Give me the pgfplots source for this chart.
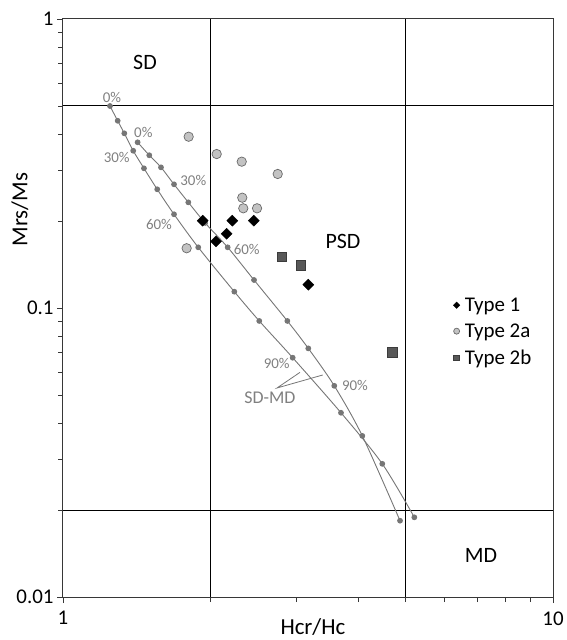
\documentclass[border=0pt]{standalone}
\usepackage{fontspec}
\setmainfont{Carlito}
\usepackage{pgfplots}
\pgfplotsset{compat=1.18}
\definecolor{curvegray}{RGB}{118,118,118}
\definecolor{labelgray}{RGB}{128,128,128}
\definecolor{circfill}{RGB}{195,195,195}
\definecolor{circdraw}{RGB}{105,105,105}
\definecolor{sqfill}{RGB}{88,88,88}
\definecolor{sqdraw}{RGB}{60,60,60}
\definecolor{framegray}{RGB}{55,55,55}
\pgfplotsset{smallleg/.style={legend image code/.code={\draw[##1, mark size=#1] plot coordinates {(0.2cm,0cm)};}}}
\begin{document}
\begin{tikzpicture}
\begin{axis}[name=ax, scale only axis, width=490bp, height=578bp,
  xmode=log, ymode=log, xmin=1, xmax=10, ymin=0.01, ymax=1,
  axis line style={framegray, line width=1bp},
  xtick={1,10}, xticklabels={1,10},
  ytick={0.01,0.1,1}, yticklabels={0.01,0.1,1},
  minor xtick={2,3,4,5,6,7,8,9},
  minor ytick={0.02,0.03,0.04,0.05,0.06,0.07,0.08,0.09,0.2,0.3,0.4,0.5,0.6,0.7,0.8,0.9},
  tick pos=left, tick align=outside,
  major tick length=6bp, minor tick length=5bp,
  every tick/.style={framegray, line width=0.8bp},
  tick label style={font=\fontsize{21}{25}\selectfont},
  xticklabel style={yshift=-5bp},
  /pgf/number format/assume math mode=true,
  extra x ticks={2,5}, extra y ticks={0.02,0.5},
  extra x tick labels={}, extra y tick labels={},
  extra tick style={grid=major, major grid style={black, line width=1bp}, major tick length=0pt},
  xlabel={Hcr/Hc}, ylabel={Mrs/Ms},
  xlabel style={at={(rel axis cs:0.51,0)}, anchor=center, yshift=-30bp, font=\fontsize{23}{27}\selectfont},
  ylabel style={at={(rel axis cs:0,0.67)}, anchor=center, yshift=43bp, font=\fontsize{23}{27}\selectfont},
  legend style={draw=none, fill=none, at={(rel axis cs:0.7963,0.5216)}, anchor=north west,
    font=\fontsize{21}{25}\selectfont, row sep=7bp, column sep=3bp, inner sep=0pt},
  legend cell align=left,
]
% SD-MD mixing curves
\addplot[curvegray, line width=0.9bp, smooth, mark=*, mark size=2.4bp,
  mark options={fill=curvegray, draw=curvegray}, forget plot] coordinates {
  (1.247,0.5) (1.293,0.4445) (1.334,0.4021) (1.391,0.3501) (1.463,0.3043)
  (1.557,0.2575) (1.685,0.2110) (1.888,0.1622) (2.237,0.1139) (2.515,0.0902)
  (2.943,0.0673) (3.693,0.0434) (4.483,0.0289) (5.212,0.01887)};
\addplot[curvegray, line width=0.9bp, smooth, mark=*, mark size=2.4bp,
  mark options={fill=curvegray, draw=curvegray}, forget plot] coordinates {
  (1.420,0.3745) (1.500,0.3377) (1.585,0.3067) (1.685,0.2679) (1.802,0.2321)
  (1.95,0.197) (2.168,0.1622) (2.454,0.125) (2.870,0.0902) (3.167,0.0725)
  (3.578,0.0538) (4.082,0.0361) (4.873,0.01837)};
% Data
\addplot[only marks, mark=square*, mark size=3.9bp, mark options={rotate=45, fill=black, draw=black},
  smallleg=2.3bp]
  coordinates {(1.928,0.2005) (2.216,0.2005) (2.451,0.2005) (2.158,0.1807) (2.052,0.170) (3.167,0.1204)};
\addlegendentry{Type 1}
\addplot[only marks, mark=*, mark size=4.7bp, mark options={fill=circfill, draw=circdraw, line width=0.7bp},
  smallleg=3.0bp]
  coordinates {(1.805,0.3915) (2.059,0.341) (2.316,0.3209) (2.743,0.2909) (2.322,0.2408)
  (2.333,0.2213) (2.489,0.2213) (1.788,0.161)};
\addlegendentry{Type 2a}
\addplot[only marks, mark=square*, mark size=4.7bp, mark options={fill=sqfill, draw=sqdraw, line width=0.6bp},
  smallleg=2.9bp]
  coordinates {(2.798,0.1505) (3.06,0.1405) (4.70,0.0703)};
\addlegendentry{Type 2b}
% Region labels
\node[font=\fontsize{22}{26}\selectfont] at (rel axis cs:0.1673,0.9256) {SD};
\node[font=\fontsize{22}{26}\selectfont] at (rel axis cs:0.5714,0.6159) {PSD};
\node[font=\fontsize{22}{26}\selectfont] at (rel axis cs:0.8531,0.0727) {MD};
% Percent labels
\begin{scope}[every node/.style={text=labelgray, font=\fontsize{15}{18}\selectfont, inner sep=0pt}]
\node at (rel axis cs:0.100,0.8638) {0\%};
\node at (rel axis cs:0.1639,0.8040) {0\%};
\node at (rel axis cs:0.1096,0.7607) {30\%};
\node at (rel axis cs:0.2659,0.7215) {30\%};
\node at (rel axis cs:0.1959,0.6453) {60\%};
\node at (rel axis cs:0.3749,0.6021) {60\%};
\node at (rel axis cs:0.4361,0.4043) {90\%};
\node at (rel axis cs:0.5959,0.3668) {90\%};
\node[font=\fontsize{18}{21}\selectfont] at (rel axis cs:0.4224,0.3443) {SD-MD};
\end{scope}
\draw[curvegray, line width=0.8bp] (rel axis cs:0.4837,0.3887) -- (rel axis cs:0.4367,0.3616) -- (rel axis cs:0.530,0.3841);
\end{axis}
\pgfresetboundingbox
\path ([xshift=-63bp,yshift=-43bp]ax.south west) rectangle ([xshift=14bp,yshift=19bp]ax.north east);
\end{tikzpicture}
\end{document}
